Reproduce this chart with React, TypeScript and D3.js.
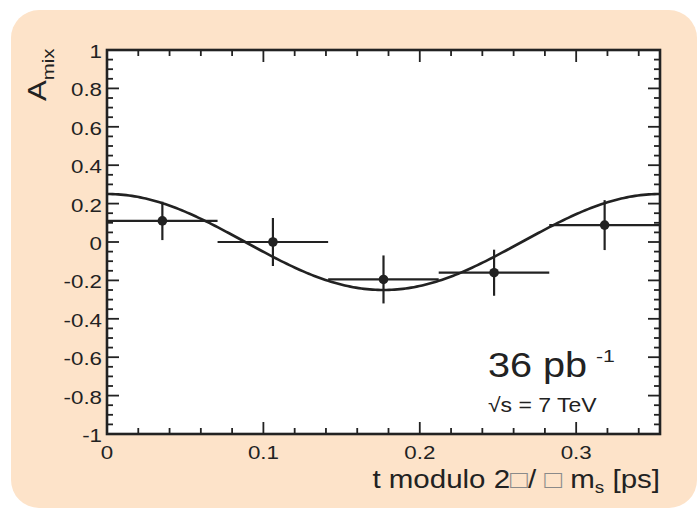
import React from "react";
import * as d3 from "d3";

const binLow = [0, 0.0707, 0.1414, 0.2121, 0.2828];
const binHigh = [0.0707, 0.1414, 0.2121, 0.2828, 0.3536];
const pointX = [0.0354, 0.1061, 0.1768, 0.2475, 0.3182];
const pointY = [0.11, 0.0, -0.195, -0.16, 0.088];
const pointErr = [0.1, 0.125, 0.125, 0.12, 0.13];
const xTicks = [0, 0.1, 0.2, 0.3];
const xTickLabels = ["0", "0.1", "0.2", "0.3"];
const yTicks = [1, 0.8, 0.6, 0.4, 0.2, 0, -0.2, -0.4, -0.6, -0.8, -1];
const yTickLabels = ["1", "0.8", "0.6", "0.4", "0.2", "0", "-0.2", "-0.4", "-0.6", "-0.8", "-1"];
const fitAmplitude = 0.25;
const period = 0.3536;

const ink = "#222";

function T(props: {
  x: number;
  y: number;
  size: number;
  sx?: number;
  anchor?: "start" | "middle" | "end";
  children: React.ReactNode;
}) {
  const { x, y, size, sx = 1.2, anchor = "start", children } = props;
  return (
    <text
      transform={`translate(${x},${y}) scale(${sx},1)`}
      textAnchor={anchor}
      fontSize={size}
      fill={ink}
    >
      {children}
    </text>
  );
}

export default function App() {
  const L = 107, R = 660, Tp = 50, B = 434;
  const x = d3.scaleLinear().domain([0, period]).range([L, R]);
  const y = d3.scaleLinear().domain([-1, 1]).range([B, Tp]);
  const font = "Liberation Sans, Arial, Helvetica, sans-serif";

  const xMinor = d3.range(0, period + 1e-9, 0.02);
  const yMinor = d3.range(-1, 1 + 1e-9, 0.05);

  const fitPts: [number, number][] = d3.range(0, 201).map((i) => {
    const t = (period * i) / 200;
    return [t, fitAmplitude * Math.cos((2 * Math.PI * t) / period)];
  });
  const line = d3.line<[number, number]>().x((d) => x(d[0])).y((d) => y(d[1]));

  const isMajorX = (v: number) => Math.abs(v * 10 - Math.round(v * 10)) < 1e-6;
  const isMajorY = (v: number) => Math.abs(v * 5 - Math.round(v * 5)) < 1e-6;

  return (
    <svg width={699} height={516} style={{ position: "absolute", left: 0, top: 0 }} fontFamily={font}>
      <rect x={11} y={10} width={686} height={498} rx={28} ry={28} fill="#fde3c9" />
      <rect x={L} y={Tp} width={R - L} height={B - Tp} fill="#fff" />
      {xMinor.map((v, i) => {
        const len = isMajorX(v) ? 12 : 6;
        return (
          <g key={"xt" + i} stroke={ink} strokeWidth={1.8}>
            <line x1={x(v)} x2={x(v)} y1={B} y2={B - len} />
            <line x1={x(v)} x2={x(v)} y1={Tp} y2={Tp + len} />
          </g>
        );
      })}
      {yMinor.map((v, i) => {
        const len = isMajorY(v) ? 12 : 6;
        return (
          <g key={"yt" + i} stroke={ink} strokeWidth={1.8}>
            <line x1={L} x2={L + len} y1={y(v)} y2={y(v)} />
            <line x1={R} x2={R - len} y1={y(v)} y2={y(v)} />
          </g>
        );
      })}
      <path d={line(fitPts) || ""} fill="none" stroke={ink} strokeWidth={2.6} />
      {pointX.map((px, i) => (
        <g key={"p" + i} stroke={ink} strokeWidth={2.2}>
          <line x1={x(binLow[i])} x2={x(binHigh[i])} y1={y(pointY[i])} y2={y(pointY[i])} />
          <line x1={x(px)} x2={x(px)} y1={y(pointY[i] + pointErr[i])} y2={y(pointY[i] - pointErr[i])} />
          <circle cx={x(px)} cy={y(pointY[i])} r={4.8} fill={ink} stroke="none" />
        </g>
      ))}
      <rect x={L} y={Tp} width={R - L} height={B - Tp} fill="none" stroke={ink} strokeWidth={2.6} />
      {yTicks.map((v, i) => (
        <T key={"yl" + i} x={102} y={y(v) + 8} size={18.6} anchor="end">
          {yTickLabels[i]}
        </T>
      ))}
      {xTicks.map((v, i) => (
        <T key={"xl" + i} x={x(v)} y={459} size={18.6} anchor="middle">
          {xTickLabels[i]}
        </T>
      ))}
      <text transform="translate(46,101) rotate(-90) scale(1.2,1)" fontSize={26} fill={ink}>
        A<tspan fontSize={17} dy={8}>mix</tspan>
      </text>
      <T x={R} y={488} size={25} sx={1.18} anchor="end">
        t modulo 2<tspan fill="#8a8a8a" fontSize={25}>□</tspan>/ <tspan fill="#8a8a8a" fontSize={25}>□</tspan> m
        <tspan fontSize={16} dy={5}>s</tspan>
        <tspan dy={-5}> [ps]</tspan>
      </T>
      <T x={488} y={376.5} size={36} sx={1.1}>
        36 pb
      </T>
      <T x={596} y={362} size={17} sx={1.25}>
        -1
      </T>
      <T x={488} y={411.5} size={20} sx={1.15}>
        √s = 7 TeV
      </T>
    </svg>
  );
}
